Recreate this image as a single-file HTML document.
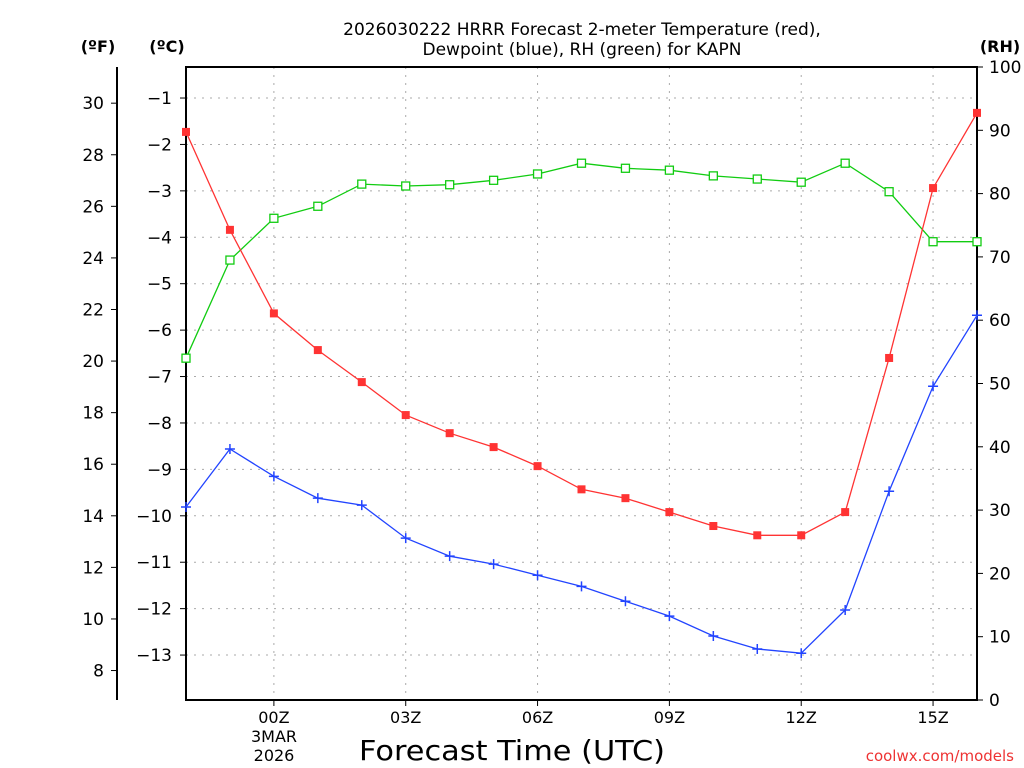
<!DOCTYPE html>
<html><head><meta charset="utf-8"><style>
body{margin:0;background:#fff;}
svg{display:block;font-family:"DejaVu Sans","Liberation Sans",sans-serif;}
</style></head><body>
<svg id="chart" width="1024" height="768" viewBox="0 0 1024 768" xmlns="http://www.w3.org/2000/svg">
<g id="grid"></g>
<g id="axes"></g>
<g id="series"></g>
<text x="582" y="35" font-size="17" text-anchor="middle">2026030222 HRRR Forecast 2-meter Temperature (red),</text>
<text x="582" y="55" font-size="17" text-anchor="middle">Dewpoint (blue), RH (green) for KAPN</text>
<text x="98" y="52" font-size="16" font-weight="bold" text-anchor="middle">(ºF)</text>
<text x="167" y="52" font-size="16" font-weight="bold" text-anchor="middle">(ºC)</text>
<text x="1000" y="52" font-size="16" font-weight="bold" text-anchor="middle">(RH)</text>
<text x="512" y="760" font-size="28" text-anchor="middle" textLength="306" lengthAdjust="spacingAndGlyphs">Forecast Time (UTC)</text>
<text x="274" y="742" font-size="16" text-anchor="middle">3MAR</text>
<text x="274" y="761" font-size="16" text-anchor="middle">2026</text>
<text x="1014" y="761" font-size="15" fill="#e33" text-anchor="end">coolwx.com/models</text>
</svg>
<script>
const hours = [-2,-1,0,1,2,3,4,5,6,7,8,9,10,11,12,13,14,15,16];
const tempC = [-1.73,-3.84,-5.64,-6.43,-7.12,-7.83,-8.22,-8.52,-8.93,-9.43,-9.62,-9.92,-10.22,-10.42,-10.42,-9.92,-6.60,-2.94,-1.32];
const dewC = [-9.81,-8.56,-9.15,-9.62,-9.77,-10.48,-10.87,-11.04,-11.28,-11.52,-11.84,-12.16,-12.59,-12.87,-12.96,-12.03,-9.47,-7.21,-5.68];
const rh = [54.0,69.5,76.1,78.0,81.5,81.2,81.4,82.1,83.1,84.8,84.0,83.7,82.8,82.3,81.8,84.8,80.3,72.4,72.4];
const xTickHours = [0,3,6,9,12,15];
const xTickLabels = ["00Z","03Z","06Z","09Z","12Z","15Z"];
const cTicks = [-1,-2,-3,-4,-5,-6,-7,-8,-9,-10,-11,-12,-13];
const fTicks = [30,28,26,24,22,20,18,16,14,12,10,8];
const rhTicks = [0,10,20,30,40,50,60,70,80,90,100];

const L=186,R=977,T=67,B=700;
const xs = h => L + (h+2)*(R-L)/18;
const yC = c => 51.6 - c*46.42;
const yF = f => yC((f-32)/1.8);
const yR = r => B - r*(B-T)/100;
const NS="http://www.w3.org/2000/svg";
function mk(parent,tag,attrs,text){const e=document.createElementNS(NS,tag);for(const k in attrs)e.setAttribute(k,attrs[k]);if(text!==undefined)e.textContent=text;document.getElementById(parent).appendChild(e);return e;}
const minus = v => (v<0?"\u2212"+Math.abs(v):String(v));

cTicks.forEach(c=>{
  const g=mk('grid','line',{x1:L,x2:R,y1:yC(c),y2:yC(c),stroke:'#aaa','stroke-dasharray':'2 6','stroke-width':1});
  
  
  const t=mk('axes','line',{x1:L-6,x2:L,y1:yC(c),y2:yC(c),stroke:'#000'});
  
  
  const l=mk('axes','text',{x:L-14,y:yC(c)+6,'font-size':17,'text-anchor':'end'},minus(c));
  
  
});
xTickHours.forEach((h,i)=>{
  const g=mk('grid','line',{x1:xs(h),x2:xs(h),y1:T,y2:B,stroke:'#aaa','stroke-dasharray':'2 6','stroke-width':1});
  
  
  const t=mk('axes','line',{x1:xs(h),x2:xs(h),y1:B,y2:B+6,stroke:'#000'});
  
  
  const l=mk('axes','text',{x:xs(h),y:B+23,'font-size':16,'text-anchor':'middle'},xTickLabels[i]);
  
  
});
fTicks.forEach(f=>{
  const t=mk('axes','line',{x1:111,x2:117,y1:yF(f),y2:yF(f),stroke:'#000'});
  
  
  const l=mk('axes','text',{x:104,y:yF(f)+6,'font-size':17,'text-anchor':'end'},String(f));
  
  
});
rhTicks.forEach(r=>{
  const t=mk('axes','line',{x1:R,x2:R+6,y1:yR(r),y2:yR(r),stroke:'#000'});
  
  
  const l=mk('axes','text',{x:989,y:yR(r)+6,'font-size':17,'text-anchor':'start'},String(r));
  
  
});
const fl=mk('axes','line',{x1:117,x2:117,y1:67,y2:700,stroke:'#000','stroke-width':2});


const frame=mk('axes','rect',{x:L,y:T,width:R-L,height:B-T,fill:'none',stroke:'#000','stroke-width':2});



function series(vals,yfn,color,name,marker){
  const pts=vals.map((v,i)=>xs(hours[i]).toFixed(1)+','+yfn(v).toFixed(1)).join(' ');
  const pl=mk('series','polyline',{points:pts,fill:'none',stroke:color,'stroke-width':1.3});
  
  
  vals.forEach((v,i)=>{
    const x=xs(hours[i]),y=yfn(v);let m;
    if(marker==='fill') m=mk('series','rect',{x:x-4,y:y-4,width:8,height:8,fill:color});
    else if(marker==='open') m=mk('series','rect',{x:x-4,y:y-4,width:8,height:8,fill:'#fff',stroke:color,'stroke-width':1.3});
    else m=mk('series','path',{d:`M${x-5} ${y}H${x+5}M${x} ${y-5}V${y+5}`,stroke:color,'stroke-width':1.5});
    
    
  });
}
series(rh,yR,'#1c1','rh','open');
series(dewC,yC,'#2244ff','dewpoint','plus');
series(tempC,yC,'#f33','temperature','fill');
</script>
</body></html>
